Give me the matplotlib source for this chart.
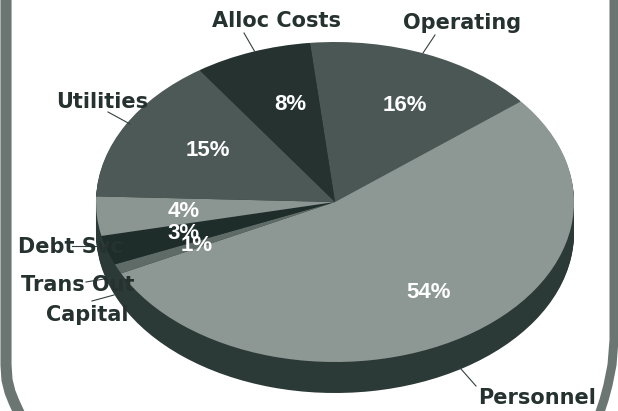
import matplotlib
matplotlib.use("Agg")
import matplotlib.pyplot as plt

slice_names = ["Operating", "Personnel", "Capital", "Trans Out", "Debt Svc", "Other", "Utilities", "Alloc Costs"]
slice_values = [16, 54, 0, 1, 3, 4, 15, 8]
slice_colors = ["#4b5754", "#8d9894", "#4b5754", "#5f6b67", "#1f2d2a", "#8b9592", "#4d5956", "#25322f"]
side_color = "#2c3a37"

pct_labels = ["16%", "54%", "1%", "3%", "4%", "15%", "8%"]
pct_x = [405, 429, 197, 184, 184, 208, 290]
pct_y = [105, 292, 245, 233, 211, 150, 104]

name_labels = ["Alloc Costs", "Operating", "Utilities", "Debt Svc", "Trans Out", "Capital", "Personnel"]
name_x = [276, 462, 102, 70, 78, 87, 537]
name_y = [21, 23, 102, 247, 285, 315, 398]
leader_x0 = [244, 435, 108, 72, 86, 92, 476]
leader_y0 = [33, 35, 112, 246, 282, 301, 386]
leader_x1 = [255, 423, 130, 97, 110, 114, 461]
leader_y1 = [52, 53, 124, 246, 278, 295, 369]

frame_left_x = [6, 6, 7, 10, 14, 20]
frame_left_y = [-5, 365, 380, 392, 402, 415]
frame_right_x = [614, 614, 612, 608, 604, 599]
frame_right_y = [-5, 340, 365, 385, 400, 415]

plt.rcParams["font.family"] = ["Liberation Sans", "DejaVu Sans"]
fig = plt.figure(figsize=(6.18, 4.11), dpi=100, facecolor="white")

ax = fig.add_axes([0, 0, 1, 1])
CX, CY, RX, RY, DEPTH = 335, 202, 239, 160, 31
for i in range(DEPTH, 0, -1):
    ax.pie(slice_values, colors=[side_color] * len(slice_values), startangle=96,
           counterclock=False, center=(0, -i / RY), radius=1, normalize=True)
wedges, _ = ax.pie(slice_values, colors=slice_colors, startangle=96, counterclock=False,
                   center=(0, 0), radius=1, normalize=True)
ax.set_aspect("auto")
ax.set_xlim(-CX / RX, (618 - CX) / RX)
ax.set_ylim((CY - 411) / RY, CY / RY)
ax.axis("off")

ov = fig.add_axes([0, 0, 1, 1], facecolor="none")
ov.set_xlim(0, 618)
ov.set_ylim(411, 0)
ov.axis("off")

ov.plot(frame_left_x, frame_left_y, color="#6b7572", lw=8, solid_joinstyle="round")
ov.plot(frame_right_x, frame_right_y, color="#6b7572", lw=6.5, solid_joinstyle="round")

for x0, y0, x1, y1 in zip(leader_x0, leader_y0, leader_x1, leader_y1):
    ov.plot([x0, x1], [y0, y1], color="#34413e", lw=0.8)
for s, x, y in zip(name_labels, name_x, name_y):
    ov.text(x, y, s, ha="center", va="center", fontsize=15, fontweight="bold",
            family="DejaVu Sans", color="#26322f")
for s, x, y in zip(pct_labels, pct_x, pct_y):
    ov.text(x, y, s, ha="center", va="center", fontsize=16, fontweight="bold", color="white")

fig.savefig("out.png", dpi=100)
